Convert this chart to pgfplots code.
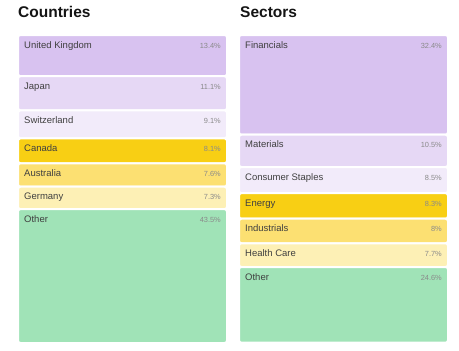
\documentclass[border=0pt]{standalone}
\usepackage{pgfplots}
\pgfplotsset{compat=1.18}
\usepackage{fontspec}
\setmainfont{Liberation Sans}
\definecolor{c1}{HTML}{D8C2F0}
\definecolor{c2}{HTML}{E6D8F5}
\definecolor{c3}{HTML}{F2EBFA}
\definecolor{c4}{HTML}{F8CF14}
\definecolor{c5}{HTML}{FCE072}
\definecolor{c6}{HTML}{FDF0B5}
\definecolor{c7}{HTML}{A0E3B7}
\definecolor{lbl}{HTML}{404040}
\definecolor{val}{HTML}{8A8A8A}
\newcommand\lblfont{\fontsize{9.5}{11}\selectfont}
\newcommand\valfont{\fontsize{7.4}{8}\selectfont}
\tikzset{
  lab/.style={anchor=base west, inner sep=0, font=\lblfont, text=lbl, xshift=6pt, yshift=-13pt},
  val/.style={anchor=base east, inner sep=0, font=\valfont, text=val, xshift=-6pt, yshift=-13pt},
}
\begin{document}
\begin{tikzpicture}[x=1pt,y=1pt]
\path[use as bounding box] (0,0) rectangle (459,351);
\node[anchor=base west, inner sep=0, font=\bfseries\fontsize{15.5}{17}\selectfont, text=black!92] at (18,333) {Countries};
\node[anchor=base west, inner sep=0, font=\bfseries\fontsize{15.5}{17}\selectfont, text=black!92] at (240,333) {Sectors};
\begin{axis}[
  at={(18pt,8pt)}, anchor=south west,
  scale only axis, width=430pt, height=308pt,
  xmin=-0.47285, xmax=1.47285, ymin=0, ymax=100.1,
  y dir=reverse, axis lines=none, ticks=none,
  ybar stacked, reverse stacked plots=false, bar width=0.9457, clip=false,
  every axis plot/.append style={draw=white, line width=2pt, rounded corners=2.5pt},
]
% layer order from top to bottom: (Countries, Sectors)
\addplot[fill=c1] coordinates {(0,13.4) (1,32.4)}; % United Kingdom / Financials
\addplot[fill=c2] coordinates {(0,11.1) (1,10.5)}; % Japan / Materials
\addplot[fill=c3] coordinates {(0,9.1) (1,8.5)};   % Switzerland / Consumer Staples
\addplot[fill=c4] coordinates {(0,8.1) (1,8.3)};   % Canada / Energy
\addplot[fill=c5] coordinates {(0,7.6) (1,8.0)};   % Australia / Industrials
\addplot[fill=c6] coordinates {(0,7.3) (1,7.7)};   % Germany / Health Care
\addplot[fill=c7] coordinates {(0,43.5) (1,24.6)}; % Other / Other
\node[lab] at (axis cs:-0.47285,0) {United Kingdom};
\node[val] at (axis cs:0.47285,0) {13.4\%};
\node[lab] at (axis cs:-0.47285,13.4) {Japan};
\node[val] at (axis cs:0.47285,13.4) {11.1\%};
\node[lab] at (axis cs:-0.47285,24.5) {Switzerland};
\node[val] at (axis cs:0.47285,24.5) {9.1\%};
\node[lab] at (axis cs:-0.47285,33.6) {Canada};
\node[val] at (axis cs:0.47285,33.6) {8.1\%};
\node[lab] at (axis cs:-0.47285,41.7) {Australia};
\node[val] at (axis cs:0.47285,41.7) {7.6\%};
\node[lab] at (axis cs:-0.47285,49.3) {Germany};
\node[val] at (axis cs:0.47285,49.3) {7.3\%};
\node[lab] at (axis cs:-0.47285,56.6) {Other};
\node[val] at (axis cs:0.47285,56.6) {43.5\%};
\node[lab] at (axis cs:0.52715,0) {Financials};
\node[val] at (axis cs:1.47285,0) {32.4\%};
\node[lab] at (axis cs:0.52715,32.4) {Materials};
\node[val] at (axis cs:1.47285,32.4) {10.5\%};
\node[lab] at (axis cs:0.52715,42.9) {Consumer Staples};
\node[val] at (axis cs:1.47285,42.9) {8.5\%};
\node[lab] at (axis cs:0.52715,51.4) {Energy};
\node[val] at (axis cs:1.47285,51.4) {8.3\%};
\node[lab] at (axis cs:0.52715,59.7) {Industrials};
\node[val] at (axis cs:1.47285,59.7) {8\%};
\node[lab] at (axis cs:0.52715,67.7) {Health Care};
\node[val] at (axis cs:1.47285,67.7) {7.7\%};
\node[lab] at (axis cs:0.52715,75.4) {Other};
\node[val] at (axis cs:1.47285,75.4) {24.6\%};
\end{axis}
\end{tikzpicture}
\end{document}
